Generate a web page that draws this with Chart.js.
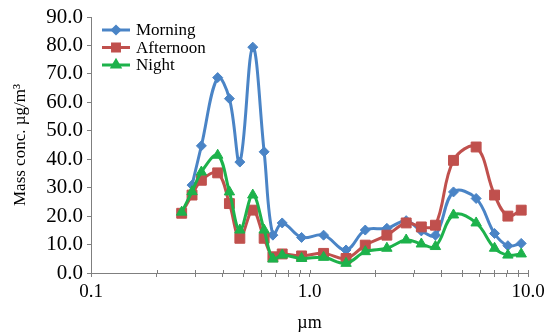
<!DOCTYPE html>
<html>
<head>
<meta charset="utf-8">
<script src="https://cdn.jsdelivr.net/npm/chart.js@4/dist/chart.umd.min.js"></script>
<style>
  html, body { margin: 0; padding: 0; background: #ffffff; }
  #wrap { width: 554px; height: 336px; position: relative; }
</style>
</head>
<body>
<div id="wrap"><canvas id="c" width="554" height="336"></canvas></div>
<script>
// Particle size (µm) of each stage
const sizes = [0.26, 0.29, 0.32, 0.38, 0.43, 0.48, 0.55, 0.62, 0.68, 0.75, 0.92, 1.16, 1.47,
               1.80, 2.26, 2.77, 3.25, 3.77, 4.56, 5.79, 7.03, 8.09, 9.31];

// Mass concentration (µg/m³) per stage
const morning   = [null, 30.9, 44.7, 68.7, 61.3, 39.0, 79.4, 42.6, 13.3, 17.6, 12.5, 13.3, 8.1,
                   15.1, 15.7, 18.4, 14.8, 13.3, 28.5, 26.2, 13.9, 9.6, 10.4];
const afternoon = [21.0, 27.4, 32.6, 35.2, 24.4, 12.2, 22.1, 12.2, 5.7, 6.7, 6.0, 6.9, 5.1,
                   9.8, 13.3, 17.6, 16.2, 16.8, 39.6, 44.3, 27.4, 20.0, 22.1];
const night     = [21.4, 28.6, 35.5, 41.4, 28.5, 15.1, 27.4, 15.1, 4.9, 6.3, 5.1, 5.5, 3.4,
                   7.5, 8.7, 11.6, 10.2, 9.3, 20.4, 17.6, 8.7, 6.3, 6.7];

const seriesNames = ['Morning', 'Afternoon', 'Night'];

// Axis ticks
const xTickValues = [0.1, 0.2, 0.3, 0.4, 0.5, 0.6, 0.7, 0.8, 0.9, 1, 2, 3, 4, 5, 6, 7, 8, 9, 10];
const xTickLabels = { 0.1: '0.1', 1: '1.0', 10: '10.0' };
const yMin = 0, yMax = 90, yStep = 10;

const FONT = "'Liberation Serif', 'Times New Roman', serif";
const AXIS = '#7f7f7f';

function pts(values) {
  return sizes.map((x, i) => ({ x: x, y: values[i] }));
}

// Legend drawn inside the plot area, top-left
const innerLegend = {
  id: 'innerLegend',
  afterDraw(chart) {
    const ctx = chart.ctx;
    const area = chart.chartArea;
    const x0 = area.left + 11;
    const y0 = area.top + 13;
    const rowH = 17.5;
    ctx.save();
    chart.data.datasets.forEach((ds, i) => {
      const y = y0 + i * rowH;
      ctx.strokeStyle = ds.borderColor;
      ctx.lineWidth = 3;
      ctx.beginPath();
      ctx.moveTo(x0, y);
      ctx.lineTo(x0 + 28, y);
      ctx.stroke();
      Chart.helpers.drawPoint(ctx, {
        pointStyle: ds.pointStyle,
        radius: ds.pointRadius * 0.7,
        borderWidth: 1
      }, x0 + 14, y);
      ctx.fillStyle = ds.borderColor;
      ctx.fill();
      ctx.fillStyle = '#000000';
      ctx.font = '17px ' + FONT;
      ctx.textBaseline = 'middle';
      ctx.textAlign = 'left';
      ctx.fillText(ds.label, x0 + 34, y + 1);
    });
    ctx.restore();
  }
};

// Small tick marks on the upper side of the x axis line
const crossTicks = {
  id: 'crossTicks',
  beforeDatasetsDraw(chart) {
    const sx = chart.scales.x;
    const ctx = chart.ctx;
    ctx.save();
    ctx.strokeStyle = AXIS;
    ctx.lineWidth = 1;
    sx.ticks.forEach(t => {
      const px = Math.round(sx.getPixelForValue(t.value)) + 0.5;
      ctx.beginPath();
      ctx.moveTo(px, sx.top - 3);
      ctx.lineTo(px, sx.top);
      ctx.stroke();
    });
    ctx.restore();
  }
};

const common = { borderWidth: 3, tension: 0.38, pointBorderWidth: 1, spanGaps: false };

new Chart(document.getElementById('c'), {
  type: 'line',
  data: {
    datasets: [
      Object.assign({ label: seriesNames[0], data: pts(morning), borderColor: '#4a84c6',
        backgroundColor: '#4a84c6', pointBackgroundColor: '#4a84c6', pointBorderColor: '#4a84c6',
        pointStyle: 'rectRot', pointRadius: 5, order: 2 }, common),
      Object.assign({ label: seriesNames[1], data: pts(afternoon), borderColor: '#c0504d',
        backgroundColor: '#c0504d', pointBackgroundColor: '#c0504d', pointBorderColor: '#c0504d',
        pointStyle: 'rect', pointRadius: 7, order: 1 }, common),
      Object.assign({ label: seriesNames[2], data: pts(night), borderColor: '#1db24b',
        backgroundColor: '#1db24b', pointBackgroundColor: '#1db24b', pointBorderColor: '#1db24b',
        pointStyle: 'triangle', pointRadius: 6, order: 0 }, common)
    ]
  },
  options: {
    responsive: false,
    animation: false,
    devicePixelRatio: 1,
    layout: { padding: { left: 10, right: 26, top: 17, bottom: 0 } },
    plugins: {
      legend: { display: false },
      tooltip: { enabled: false }
    },
    scales: {
      x: {
        type: 'logarithmic',
        min: 0.1,
        max: 10,
        afterBuildTicks(scale) {
          scale.ticks = xTickValues.map(v => ({ value: v }));
        },
        afterFit(scale) { scale.height = 63; },
        grid: { drawOnChartArea: false, drawTicks: true, tickLength: 4, color: AXIS },
        border: { color: AXIS, width: 1 },
        ticks: {
          autoSkip: false,
          maxRotation: 0,
          padding: 4,
          color: '#000000',
          font: { family: FONT, size: 19 },
          callback(v) { return xTickLabels[v] !== undefined ? xTickLabels[v] : ''; }
        },
        title: {
          display: true,
          text: 'µm',
          color: '#000000',
          font: { family: FONT, size: 18 },
          padding: { top: 0, bottom: 2 }
        }
      },
      y: {
        min: yMin,
        max: yMax,
        afterFit(scale) { scale.width = 81; },
        grid: { drawOnChartArea: false, drawTicks: true, tickLength: 4, color: AXIS },
        border: { color: AXIS, width: 1 },
        ticks: {
          stepSize: yStep,
          padding: 4,
          color: '#000000',
          font: { family: FONT, size: 21 },
          callback(v) { return Number(v).toFixed(1); }
        },
        title: {
          display: true,
          text: 'Mass conc. µg/m³',
          color: '#000000',
          font: { family: FONT, size: 17 },
          padding: { top: 0, bottom: 2 }
        }
      }
    }
  },
  plugins: [crossTicks, innerLegend]
});
</script>
</body>
</html>
